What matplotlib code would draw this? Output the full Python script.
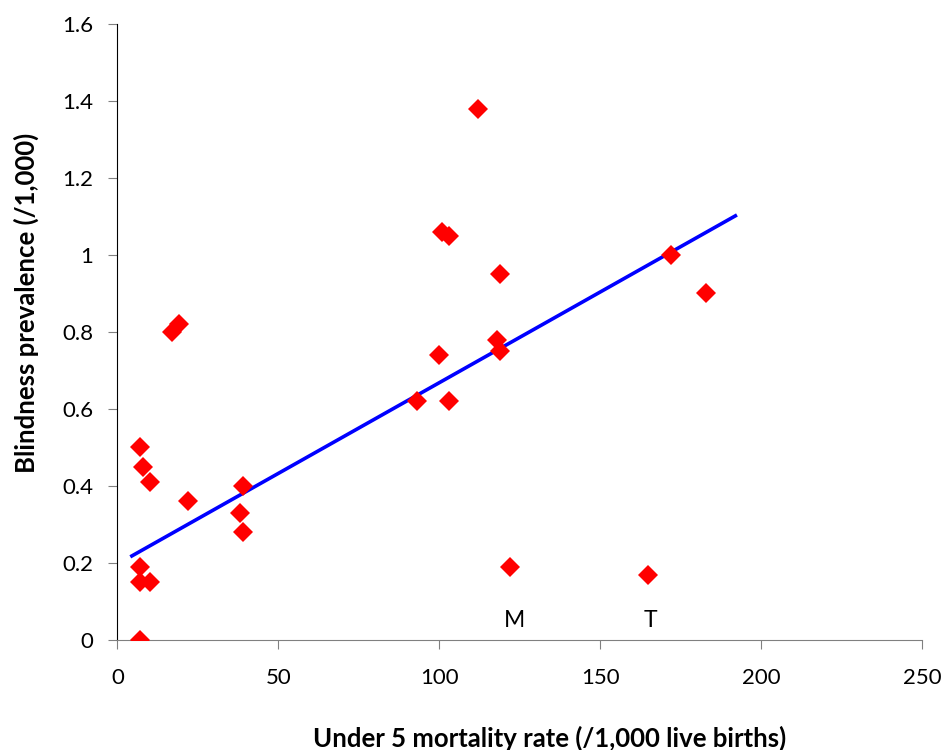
import numpy as np
import matplotlib
matplotlib.use("Agg")
import matplotlib.pyplot as plt

plt.rcParams['font.family'] = ['Lato', 'DejaVu Sans']

u5mr = [7, 7, 10, 7, 7, 8, 10, 22, 39, 38, 39, 17, 19,
        112, 101, 103, 119, 118, 119, 100, 93, 103,
        122, 165, 172, 183]
blindness = [0.0, 0.15, 0.15, 0.19, 0.50, 0.45, 0.41, 0.36, 0.40, 0.33, 0.28, 0.80, 0.82,
             1.38, 1.06, 1.05, 0.95, 0.78, 0.75, 0.74, 0.62, 0.62,
             0.19, 0.17, 1.00, 0.90]
# linear trend line as drawn in the reference (end points)
trend_x = [4, 192.5]
trend_y = [0.216, 1.104]
annot_labels = ['M', 'T']
annot_x = [123.3, 165.7]
annot_y = [0.0345, 0.0345]
x_ticks = [0, 50, 100, 150, 200, 250]
y_ticks = [0, 0.2, 0.4, 0.6, 0.8, 1.0, 1.2, 1.4, 1.6]
y_ticklabels = ['0', '0.2', '0.4', '0.6', '0.8', '1', '1.2', '1.4', '1.6']

fig = plt.figure(figsize=(9.47, 7.5), dpi=100)
ax = fig.add_axes([0.124, 0.1467, 0.8496, 0.8213])

ax.plot(u5mr, blindness, linestyle='none', marker='D', markersize=10,
        markeredgewidth=0, color='#ff0000', zorder=3)

ax.plot(trend_x, trend_y, color='#0000ff', lw=2.6, zorder=2,
        solid_capstyle='butt')

for lab, x, y in zip(annot_labels, annot_x, annot_y):
    ax.text(x, y, lab, ha='center', va='baseline', fontsize=16.5)

ax.set_xlim(0, 250)
ax.set_ylim(0, 1.6)
ax.set_xticks(x_ticks)
ax.set_yticks(y_ticks)
ax.set_yticklabels(y_ticklabels)
ax.tick_params(axis='both', labelsize=16, length=6.3, width=0.8, color='#808080')
ax.tick_params(axis='y', pad=11)
ax.tick_params(axis='x', pad=25.4)
for t in ax.xaxis.get_major_ticks():
    t.label1.set_va('baseline')

for s in ['top', 'right']:
    ax.spines[s].set_visible(False)
ax.spines['left'].set_color('black')
ax.spines['left'].set_linewidth(0.8)
ax.spines['bottom'].set_color('#808080')
ax.spines['bottom'].set_linewidth(0.8)

ax.text(0.5376, -0.1737, 'Under 5 mortality rate (/1,000 live births)',
        transform=ax.transAxes, fontsize=18.5, fontweight='bold',
        ha='center', va='baseline')
ax.text(-0.1025, 0.548, 'Blindness prevalence (/1,000)',
        transform=ax.transAxes, fontsize=18.5, fontweight='bold',
        ha='center', va='baseline', rotation=90, rotation_mode='anchor')

fig.savefig('out.png', dpi=100)
